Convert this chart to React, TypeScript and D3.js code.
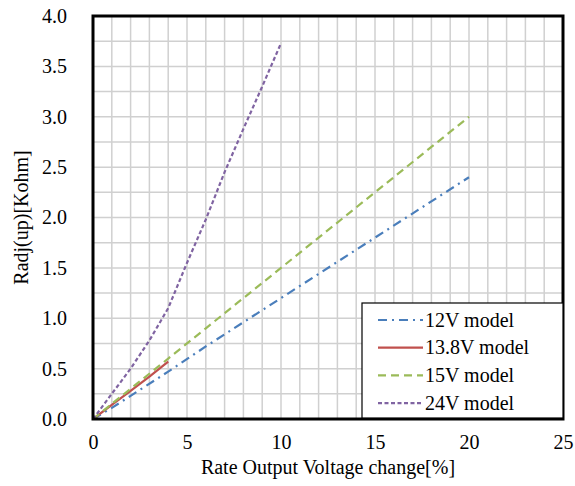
import { useEffect, useRef } from 'react';
import * as d3 from 'd3';

const W = 575, H = 486;
const ML = 93, MR = 12, MT = 16, MB = 67;
const INNER_W = W - ML - MR;
const INNER_H = H - MT - MB;

const xTicks = [0, 5, 10, 15, 20, 25];
const yTicks = [0, 0.5, 1, 1.5, 2, 2.5, 3, 3.5, 4];

const x12 = [0, 1, 2, 4, 6, 8, 10, 12, 15, 20];
const y12 = [0, 0.11, 0.23, 0.47, 0.72, 0.96, 1.2, 1.44, 1.8, 2.4];
const x138 = [0, 1, 2, 3, 4];
const y138 = [0, 0.14, 0.28, 0.42, 0.57];
const x15 = [0, 2, 4, 6, 8, 10, 12, 15, 20];
const y15 = [0, 0.3, 0.6, 0.9, 1.2, 1.5, 1.8, 2.25, 3.0];
const x24 = [0, 1, 2, 3, 4, 5, 6, 7, 8, 9, 10];
const y24 = [0, 0.25, 0.5, 0.78, 1.1, 1.55, 1.98, 2.45, 2.88, 3.3, 3.73];

const series = [
  { name: '12V model', xs: x12, ys: y12, color: '#4a7ebb', dash: '9,5,2,5' },
  { name: '13.8V model', xs: x138, ys: y138, color: '#c0504d', dash: null },
  { name: '15V model', xs: x15, ys: y15, color: '#9bbb59', dash: '8,5' },
  { name: '24V model', xs: x24, ys: y24, color: '#8064a2', dash: '4,2.5' },
];

const FONT = "'Liberation Serif', 'DejaVu Serif', serif";

export default function App() {
  const svgRef = useRef<SVGSVGElement>(null);

  useEffect(() => {
    const svg = d3.select(svgRef.current);
    svg.selectAll('*').remove();

    const x = d3.scaleLinear().domain([0, 25]).range([0, INNER_W]);
    const y = d3.scaleLinear().domain([0, 4]).range([INNER_H, 0]);

    const g = svg.append('g').attr('transform', `translate(${ML},${MT})`);

    // minor gridlines
    g.append('g')
      .selectAll('line')
      .data(d3.range(1, 25))
      .join('line')
      .attr('x1', (d) => x(d)).attr('x2', (d) => x(d))
      .attr('y1', 0).attr('y2', INNER_H)
      .attr('stroke', '#d0d0d0').attr('stroke-width', 1.5);
    g.append('g')
      .selectAll('line')
      .data(d3.range(1, 16).map((d) => d * 0.25))
      .join('line')
      .attr('x1', 0).attr('x2', INNER_W)
      .attr('y1', (d) => y(d)).attr('y2', (d) => y(d))
      .attr('stroke', '#d0d0d0').attr('stroke-width', 1.5);

    // series
    const line = d3.line<[number, number]>().x((d) => x(d[0])).y((d) => y(d[1]));
    series.forEach((s) => {
      const pts = s.xs.map((v, i) => [v, s.ys[i]] as [number, number]);
      g.append('path')
        .attr('d', line(pts))
        .attr('fill', 'none')
        .attr('stroke', s.color)
        .attr('stroke-width', 2.2)
        .attr('stroke-dasharray', s.dash);
    });

    // plot border
    g.append('rect')
      .attr('width', INNER_W).attr('height', INNER_H)
      .attr('fill', 'none').attr('stroke', '#000').attr('stroke-width', 3);

    // y axis labels
    g.append('g')
      .call(d3.axisLeft(y).tickValues(yTicks).tickFormat(d3.format('.1f')).tickSize(0).tickPadding(26))
      .call((gg) => {
        gg.select('.domain').remove();
        gg.selectAll('text').style('font-size', '20px').style('font-family', FONT).attr('fill', '#000');
      });

    // x axis labels
    g.append('g')
      .attr('transform', `translate(0,${INNER_H})`)
      .call(d3.axisBottom(x).tickValues(xTicks).tickFormat(d3.format('d')).tickSize(0).tickPadding(16))
      .call((gg) => {
        gg.select('.domain').remove();
        gg.selectAll('text').style('font-size', '20px').style('font-family', FONT).attr('fill', '#000');
      });

    // axis titles
    svg.append('text')
      .attr('x', ML + INNER_W / 2).attr('y', H - 12)
      .attr('text-anchor', 'middle')
      .style('font-family', FONT).style('font-size', '20px')
      .text('Rate Output Voltage change[%]');
    svg.append('text')
      .attr('transform', `translate(28,${MT + INNER_H / 2}) rotate(-90)`)
      .attr('text-anchor', 'middle')
      .style('font-family', FONT).style('font-size', '20px')
      .text('Radj(up)[Kohm]');

    // legend
    const lx = 362, ly = 303, lw = 201, lh = 115;
    const lg = svg.append('g');
    lg.append('rect')
      .attr('x', lx).attr('y', ly).attr('width', lw).attr('height', lh)
      .attr('fill', '#fff').attr('stroke', '#000').attr('stroke-width', 1.2);
    series.forEach((s, i) => {
      const cy = ly + 17 + i * 27.7;
      lg.append('line')
        .attr('x1', lx + 16).attr('x2', lx + 61)
        .attr('y1', cy).attr('y2', cy)
        .attr('stroke', s.color).attr('stroke-width', 2.2)
        .attr('stroke-dasharray', s.dash);
      lg.append('text')
        .attr('x', lx + 63).attr('y', cy + 6.5)
        .style('font-family', FONT).style('font-size', '20px')
        .text(s.name);
    });
  }, []);

  return (
    <svg ref={svgRef} width={W} height={H} style={{ display: 'block', position: 'absolute', left: 0, top: 0, background: '#fff' }} />
  );
}
